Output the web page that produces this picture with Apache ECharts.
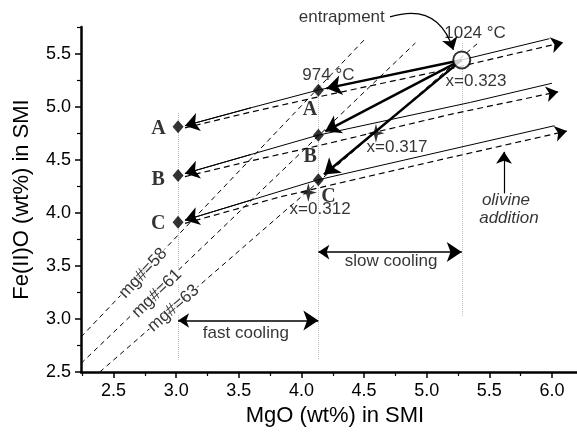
<!DOCTYPE html>
<html>
<head>
<meta charset="utf-8">
<script src="https://cdn.jsdelivr.net/npm/echarts@6/dist/echarts.min.js"></script>
<style>html,body{margin:0;padding:0;background:#fff}#chart{width:577px;height:434px}</style>
</head>
<body>
<div id="chart"></div>
<script>
// axis ticks
var xTicks = [2.5, 3.0, 3.5, 4.0, 4.5, 5.0, 5.5, 6.0];
var xMinorTicks = [2.25, 2.75, 3.25, 3.75, 4.25, 4.75, 5.25, 5.75];
var yTicks = [2.5, 3.0, 3.5, 4.0, 4.5, 5.0, 5.5];
var yMinorTicks = [2.75, 3.25, 3.75, 4.25, 4.75, 5.25, 5.75];

// constant mg# lines [MgO, FeO]
var mg58 = [[2.24, 2.83], [4.51, 5.64]];
var mg61 = [[2.24, 2.58], [4.91, 5.60]];
var mg63 = [[2.39, 2.50], [5.42, 5.61]];

// olivine addition paths (solid) and their dashed counterparts
var solidA = [[3.07, 4.82], [3.6, 4.99], [4.13, 5.155], [5.28, 5.44], [5.98, 5.64]];
var solidB = [[3.07, 4.37], [3.6, 4.55], [4.13, 4.73], [5.35, 5.04], [6.0, 5.22]];
var solidC = [[3.07, 3.93], [3.6, 4.12], [4.13, 4.31], [6.02, 4.82]];
var dashA = [[3.07, 4.80], [3.6, 4.95], [4.13, 5.09], [5.2, 5.36], [6.09, 5.605]];
var dashB = [[3.07, 4.34], [3.6, 4.49], [4.13, 4.63], [5.2, 4.93], [6.05, 5.14]];
var dashC = [[3.07, 3.90], [3.83, 4.15], [5.0, 4.47], [6.12, 4.77]];

// cooling paths from entrapment point
var entrap = [5.28, 5.44];
var coolEnds = [[4.2, 5.172], [4.19, 4.767], [4.18, 4.36]];

// points
var diamonds = [[3.015, 4.81], [3.015, 4.35], [3.015, 3.91], [4.135, 5.155], [4.135, 4.73], [4.135, 4.31]];
var stars = [[4.595, 4.75], [4.055, 4.19]];

// dotted verticals [x, yTop, yBottom]
var verticals = [[3.015, 4.94, 2.615], [4.135, 5.25, 2.615], [5.28, 5.6, 3.02]];

// double arrows [x1, x2, y]
var fastCool = [3.015, 4.135, 2.985];
var slowCool = [4.135, 5.28, 3.63];
var olivineArrow = [[5.617, 4.183], [5.617, 4.574]];
var entrapArrow = [[4.707, 5.845], [5.213, 5.534]];

// texts
var letters = [['A', 2.859, 4.794], ['B', 2.857, 4.307], ['C', 2.857, 3.90],
  ['A', 4.069, 4.966], ['B', 4.069, 4.527], ['C', 4.215, 4.15]];
var notes = [['entrapment', 4.322, 5.845], ['1024 °C', 5.386, 5.688], ['974 °C', 4.215, 5.296],
  ['x=0.323', 5.394, 5.24], ['x=0.317', 4.763, 4.621], ['x=0.312', 4.149, 4.035],
  ['slow cooling', 4.716, 3.539], ['fast cooling', 3.556, 2.865]];
var italicNotes = [['olivine', 5.633, 4.12], ['addition', 5.657, 3.947]];
var mgLabels = [['mg#=58', 2.737, 3.43, 47], ['mg#=61', 2.846, 3.24, 44], ['mg#=63', 2.979, 3.10, 41]];

var font = 'Arial, "Liberation Sans", sans-serif';

function lineSeries(pts, type) {
  return {
    type: 'line', data: pts, symbol: 'none', silent: true, z: 2,
    lineStyle: { color: '#000', width: 1, type: type || [5, 4] }
  };
}

function textSeries(items, style) {
  return {
    type: 'scatter', symbolSize: 0, clip: false, silent: true, z: 6,
    data: items.map(function (t) {
      return {
        value: [t[1], t[2]],
        label: Object.assign({
          show: true, position: 'inside', formatter: t[0],
          rotate: t[3] || 0, color: '#000'
        }, style)
      };
    })
  };
}

// polylines drop end symbols, so the arrow sits on a straight copy of the end segment
function headSeg(c) { return { coords: [c[1], c[0]] }; }
function tailSeg(c) { return { coords: [c[c.length - 2], c[c.length - 1]] }; }

var chart = echarts.init(document.getElementById('chart'));

var axisCommon = {
  type: 'value',
  splitLine: { show: false }
};

var option = {
  backgroundColor: '#fff',
  animation: false,
  grid: { left: 81, right: 0, top: 27, bottom: 62 },
  xAxis: [
    Object.assign({}, axisCommon, {
      min: 2.24, max: 6.2, position: 'bottom',
      name: 'MgO (wt%) in SMI', nameLocation: 'middle', nameGap: 33,
      nameTextStyle: { fontSize: 22, fontFamily: font, color: '#000', padding: [0, 0, 0, 12] },
      axisLine: { show: true, lineStyle: { color: '#000', width: 2.5 } },
      axisTick: { show: true, customValues: xTicks, length: 6, lineStyle: { color: '#000', width: 1.5 } },
      axisLabel: { customValues: xTicks, margin: 10, fontSize: 18, fontFamily: font, color: '#000',
        formatter: function (v) { return v.toFixed(1); } }
    }),
    Object.assign({}, axisCommon, {
      min: 2.24, max: 6.2, position: 'bottom',
      axisLine: { show: false },
      axisTick: { show: true, customValues: xMinorTicks, length: 4, lineStyle: { color: '#000', width: 1.2 } },
      axisLabel: { show: false }
    })
  ],
  yAxis: [
    Object.assign({}, axisCommon, {
      min: 2.5, max: 5.75, position: 'left',
      name: 'Fe(II)O (wt%) in SMI', nameLocation: 'middle', nameGap: 48,
      nameTextStyle: { fontSize: 22, fontFamily: font, color: '#000' },
      axisLine: { show: true, lineStyle: { color: '#000', width: 2.5 } },
      axisTick: { show: true, customValues: yTicks, length: 6, lineStyle: { color: '#000', width: 1.5 } },
      axisLabel: { customValues: yTicks, margin: 10, fontSize: 18, fontFamily: font, color: '#000',
        formatter: function (v) { return v.toFixed(1); } }
    }),
    Object.assign({}, axisCommon, {
      min: 2.5, max: 5.75, position: 'left',
      axisLine: { show: false },
      axisTick: { show: true, customValues: yMinorTicks, length: 4, lineStyle: { color: '#000', width: 1.2 } },
      axisLabel: { show: false }
    })
  ],
  series: [
    lineSeries(mg58), lineSeries(mg61), lineSeries(mg63),
    {
      type: 'lines', coordinateSystem: 'cartesian2d', silent: true, z: 1,
      lineStyle: { color: '#777', width: 1, type: [1, 1] },
      data: verticals.map(function (v) { return { coords: [[v[0], v[1]], [v[0], v[2]]] }; })
    },
    {
      type: 'lines', coordinateSystem: 'cartesian2d', polyline: true, silent: true, z: 3,
      lineStyle: { color: '#000', width: 1, opacity: 1 },
      data: [solidA, solidB, solidC].map(function (c) { return { coords: c }; })
    },
    {
      type: 'lines', coordinateSystem: 'cartesian2d', silent: true, z: 3,
      symbol: ['none', 'arrow'], symbolSize: [10, 14],
      lineStyle: { color: '#000', width: 1, opacity: 1 },
      data: [solidA, solidB, solidC].map(headSeg)
    },
    {
      type: 'lines', coordinateSystem: 'cartesian2d', polyline: true, silent: true, z: 3,
      lineStyle: { color: '#000', width: 1.2, type: [6, 4], opacity: 1 },
      data: [dashA, dashB, dashC].map(function (c) { return { coords: c }; })
    },
    {
      type: 'lines', coordinateSystem: 'cartesian2d', silent: true, z: 3, clip: false,
      symbol: ['none', 'arrow'], symbolSize: [8, 12],
      lineStyle: { color: '#000', width: 0, opacity: 1 },
      data: [dashA, dashB, dashC].map(tailSeg)
    },
    {
      type: 'lines', coordinateSystem: 'cartesian2d', silent: true, z: 4,
      symbol: ['none', 'arrow'], symbolSize: [11, 15],
      lineStyle: { color: '#000', width: 2.5, opacity: 1 },
      data: coolEnds.map(function (e) { return { coords: [entrap, e] }; })
    },
    {
      type: 'lines', coordinateSystem: 'cartesian2d', silent: true, z: 4,
      symbol: ['arrow', 'arrow'], symbolSize: [11, 15],
      lineStyle: { color: '#000', width: 1.5, opacity: 1 },
      data: [
        { coords: [[fastCool[0], fastCool[2]], [fastCool[1], fastCool[2]]] },
        { coords: [[slowCool[0], slowCool[2]], [slowCool[1], slowCool[2]]] }
      ]
    },
    {
      type: 'lines', coordinateSystem: 'cartesian2d', silent: true, z: 4, clip: false,
      symbol: ['none', 'arrow'], symbolSize: [8, 12],
      lineStyle: { color: '#000', width: 1.2, opacity: 1 },
      data: [
        { coords: olivineArrow },
        { coords: entrapArrow, lineStyle: { curveness: 0.5 } }
      ]
    },
    {
      type: 'scatter', silent: true, z: 5, symbol: 'diamond', symbolSize: [11, 13],
      itemStyle: { color: '#000' }, data: diamonds
    },
    {
      type: 'scatter', silent: true, z: 5,
      symbol: 'path://M0,-8 L1.6,-1.6 L7,0 L1.6,1.6 L0,8 L-1.6,1.6 L-7,0 L-1.6,-1.6 Z',
      symbolSize: [17, 19], itemStyle: { color: '#000' }, data: stars
    },
    {
      type: 'scatter', silent: true, z: 5, symbol: 'circle', symbolSize: 17,
      itemStyle: { color: '#fff', borderColor: '#000', borderWidth: 2 }, data: [entrap]
    },
    textSeries(letters, { fontSize: 20, fontWeight: 'bold', fontFamily: '"Liberation Serif", "Times New Roman", serif' }),
    textSeries(notes, { fontSize: 17, fontFamily: font }),
    textSeries(italicNotes, { fontSize: 17, fontStyle: 'italic', fontFamily: font }),
    textSeries(mgLabels, { fontSize: 17, fontFamily: font, backgroundColor: '#fff', padding: [0, 1] })
  ]
};

chart.setOption(option);
window.addEventListener('resize', function () { chart.resize(); });
</script>
</body>
</html>
